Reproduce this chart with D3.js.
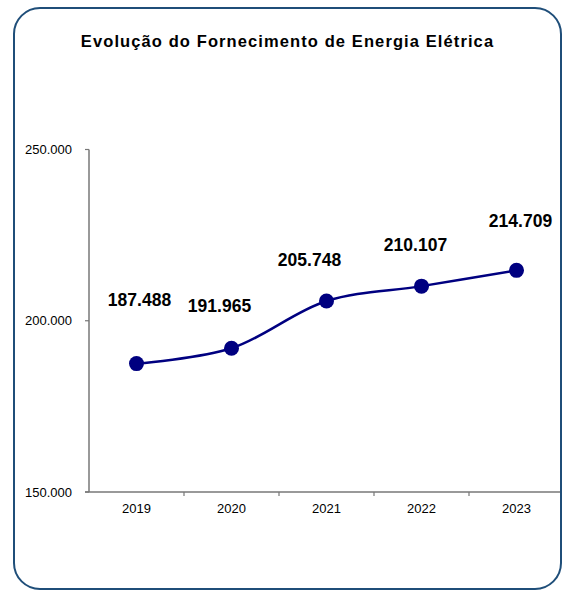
<!DOCTYPE html>
<html><head><meta charset="utf-8">
<script src="https://cdn.jsdelivr.net/npm/d3@7"></script>
<style>body{margin:0;background:#fff}svg{display:block;font-family:"Liberation Sans",Arial,sans-serif}</style>
</head><body><svg id="c" width="564" height="593"></svg>
<script>
const categories = ["2019","2020","2021","2022","2023"];
const values = [187488, 191965, 205748, 210107, 214709];
const valueLabels = ["187.488","191.965","205.748","210.107","214.709"];
const yTicks = [150000, 200000, 250000];
const yTickLabels = ["150.000","200.000","250.000"];
const title = "Evolução do Fornecimento de Energia Elétrica";
// label placement (layout only)
const labelDx = [3, -12, -17, -6, 4];
const labelDy = [-58, -36, -35, -35, -43];

const svg = d3.select("#c");
svg.append("rect").attr("x",14).attr("y",8).attr("width",547).attr("height",581)
  .attr("rx",26).attr("ry",26).attr("fill","#fff").attr("stroke","#1f4e79").attr("stroke-width",2);

svg.append("text").attr("x",287.5).attr("y",47).attr("text-anchor","middle")
  .attr("font-size","16.5px").attr("letter-spacing","1.1px").attr("font-weight","bold").attr("fill","#000").text(title);

const x = d3.scaleBand().domain(categories).range([89,564]).paddingInner(0).paddingOuter(0);
const y = d3.scaleLinear().domain([150000,250000]).range([492,149.5]);

// y axis
const yAxis = svg.append("g");
yAxis.append("line").attr("x1",89).attr("x2",89).attr("y1",y(250000)).attr("y2",y(150000))
  .attr("stroke","#777").attr("stroke-width",1.5);
yTicks.forEach((t,i)=>{
  yAxis.append("line").attr("x1",85).attr("x2",89).attr("y1",y(t)).attr("y2",y(t)).attr("stroke","#777").attr("stroke-width",1.2);
  yAxis.append("text").attr("x",72).attr("y",y(t)).attr("dy","0.35em").attr("text-anchor","end")
    .attr("font-size","13px").attr("fill","#000").text(yTickLabels[i]);
});
// x axis
const xAxis = svg.append("g");
xAxis.append("line").attr("x1",85).attr("x2",560).attr("y1",y(150000)).attr("y2",y(150000))
  .attr("stroke","#777").attr("stroke-width",1.5);
categories.forEach((c,i)=>{
  if(i>0) xAxis.append("line").attr("x1",x(c)).attr("x2",x(c)).attr("y1",y(150000)).attr("y2",y(150000)+4).attr("stroke","#777").attr("stroke-width",1.2);
  xAxis.append("text").attr("x",x(c)+x.bandwidth()/2).attr("y",513).attr("text-anchor","middle")
    .attr("font-size","13px").attr("fill","#000").text(c);
});

const pts = values.map((v,i)=>[x(categories[i])+x.bandwidth()/2, y(v)]);
svg.append("path").attr("d", d3.line().curve(d3.curveCatmullRom.alpha(0.5))(pts))
  .attr("fill","none").attr("stroke","#000080").attr("stroke-width",2.5);
svg.selectAll("circle.p").data(pts).enter().append("circle").attr("cx",d=>d[0]).attr("cy",d=>d[1])
  .attr("r",7.5).attr("fill","#000080");
svg.selectAll("text.v").data(pts).enter().append("text")
  .attr("x",(d,i)=>d[0]+labelDx[i]).attr("y",(d,i)=>d[1]+labelDy[i]).attr("text-anchor","middle")
  .attr("font-size","17.5px").attr("font-weight","bold").attr("fill","#000").text((d,i)=>valueLabels[i]);
</script></body></html>
